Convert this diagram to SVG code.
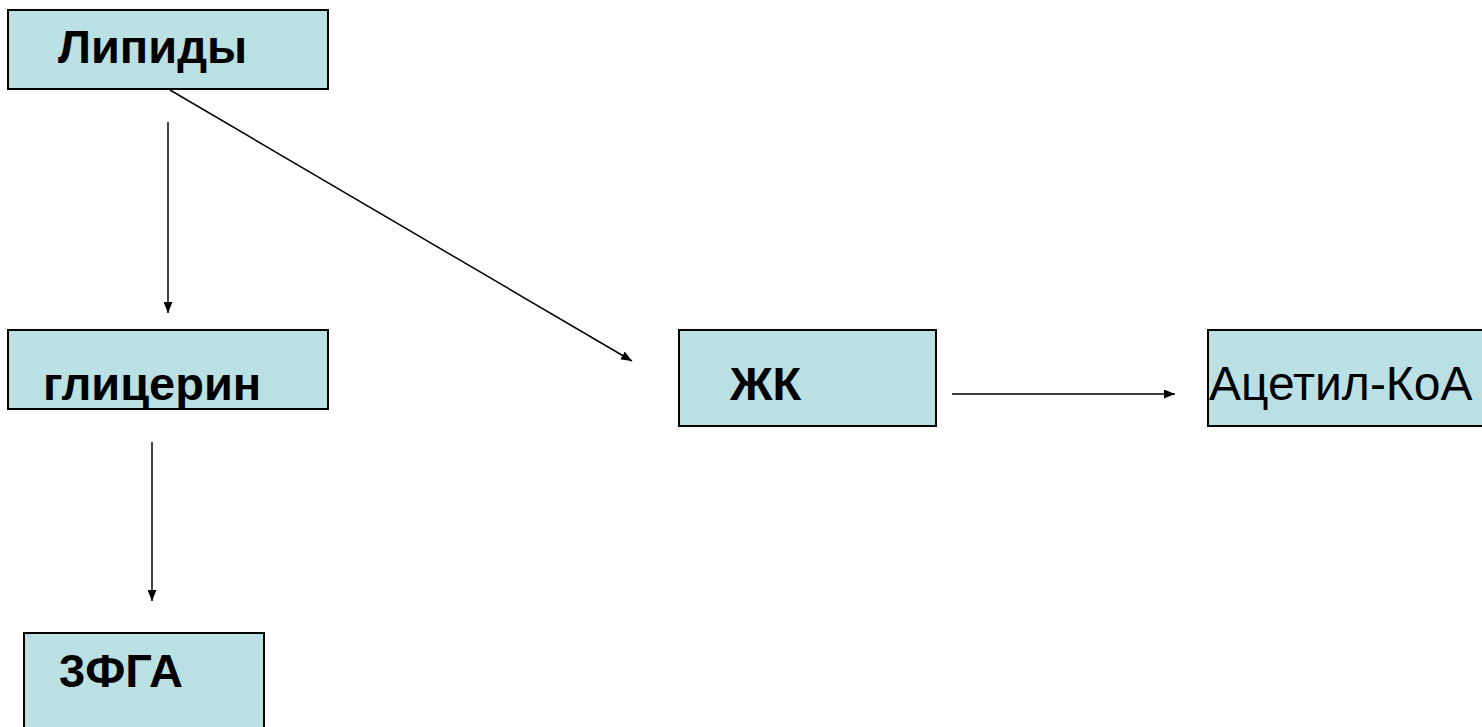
<svg xmlns="http://www.w3.org/2000/svg" width="1482" height="727" viewBox="0 0 1482 727">
<style>
.box{fill:#bbe0e3;stroke:#000;stroke-width:2}
.b{font-family:"Liberation Sans",Arial,sans-serif;font-weight:bold;font-size:47px;fill:#000}
.r{font-family:"Liberation Sans",Arial,sans-serif;font-size:48px;fill:#000}
.ln{stroke:#000;stroke-width:1.5;fill:none;marker-end:url(#ah)}
</style>
<defs>
<marker id="ah" markerWidth="11" markerHeight="9" refX="11" refY="4.5" orient="auto" markerUnits="userSpaceOnUse">
<path d="M0,0 L11,4.5 L0,9 Z" fill="#000"/>
</marker>
</defs>
<g id="lipidy"><rect class="box" x="8" y="10" width="320" height="79"/><text class="b" x="58" y="63">Липиды</text></g>
<g id="glicerin"><rect class="box" x="8" y="330" width="320" height="79"/><text class="b" x="43" y="400">глицерин</text></g>
<g id="zhk"><rect class="box" x="679" y="330" width="257" height="96"/><text class="b" x="730" y="400">ЖК</text></g>
<g id="acetil"><rect class="box" x="1208" y="330" width="280" height="96"/><text class="r" x="1209" y="400">Ацетил-КоА</text></g>
<g id="zfga"><rect class="box" x="24" y="633" width="240" height="100"/><text class="b" x="59" y="687">3ФГА</text></g>
<g id="connectors">
<line class="ln" x1="168" y1="122" x2="168" y2="313"/>
<line class="ln" x1="170" y1="90" x2="632" y2="361"/>
<line class="ln" x1="152" y1="442" x2="152" y2="601"/>
<line class="ln" x1="952" y1="394" x2="1175" y2="394"/>
</g>
</svg>
